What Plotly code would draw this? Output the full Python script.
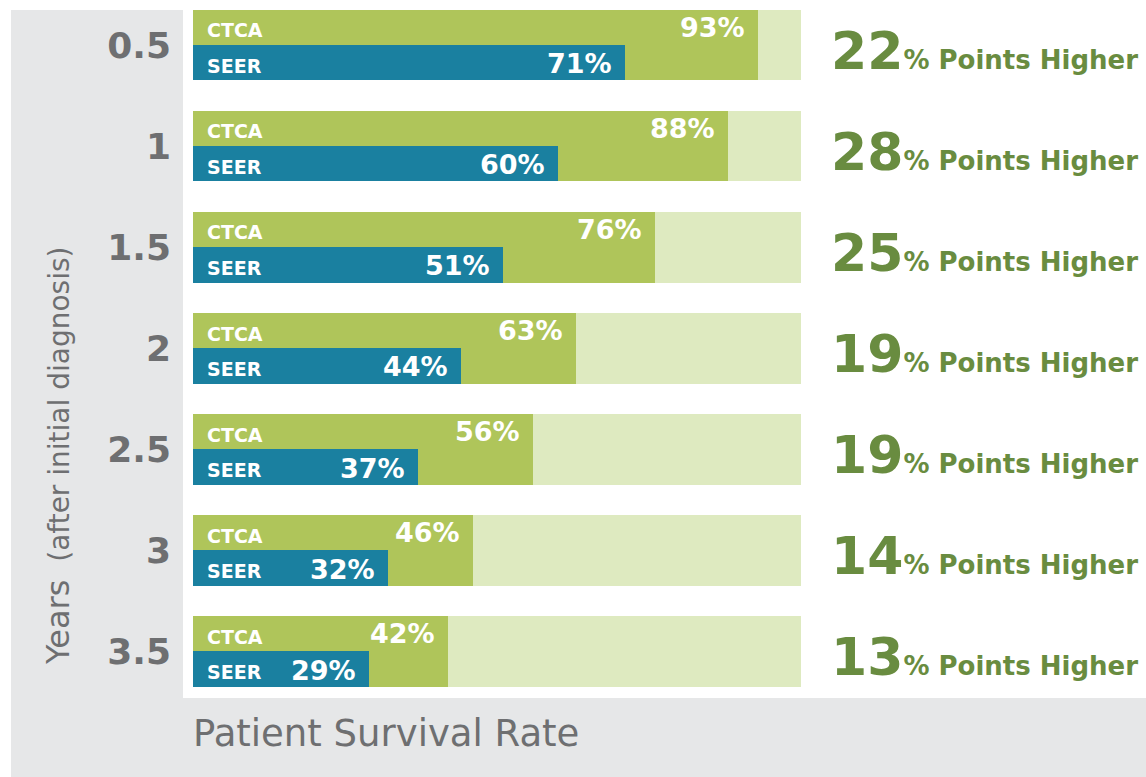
import plotly.graph_objects as go

# ---- data ----
years = ["0.5", "1", "1.5", "2", "2.5", "3", "3.5"]
ctca = [93, 88, 76, 63, 56, 46, 42]
seer = [71, 60, 51, 44, 37, 32, 29]
full = [100] * len(years)
series_names = ["CTCA", "SEER"]

# ---- style ----
FONT = "DejaVu Sans"
GRAY_BG = "#e6e7e8"
GRAY_TXT = "#6e6f71"
LIGHT = "#deeac0"
GREEN = "#afc55a"
BLUE = "#1a80a0"
DARK_GREEN = "#698c40"

W, H = 1146, 777
PL, PB = 183, 79  # plot area left edge / bottom strip height in px
px_per_unit = 6.08
x_lo = -(193 - PL) / px_per_unit
x_hi = (W - 193) / px_per_unit

ypos = list(range(len(years)))
row_px = 101.08
y_top = -45 / row_px
y_bot = ((H - PB) - 45) / row_px

fig = go.Figure()
fig.add_trace(go.Bar(y=ypos, x=full, orientation="h", width=0.70,
                     marker=dict(color=LIGHT, line=dict(width=0)),
                     hoverinfo="skip", showlegend=False))
fig.add_trace(go.Bar(y=ypos, x=ctca, orientation="h", width=0.70, name=series_names[0],
                     marker=dict(color=GREEN, line=dict(width=0)), showlegend=False))
fig.add_trace(go.Bar(y=ypos, x=seer, orientation="h", width=0.35, offset=0,
                     name=series_names[1],
                     marker=dict(color=BLUE, line=dict(width=0)), showlegend=False))

ann = []
for i, (c, s) in enumerate(zip(ctca, seer)):
    # series labels
    ann.append(dict(x=0, y=i - 0.175, xref="x", yref="y", text=f"<b>{series_names[0]}</b>",
                    showarrow=False, xanchor="left", yanchor="middle", xshift=12, yshift=-3,
                    font=dict(family=FONT, size=19, color="white")))
    ann.append(dict(x=0, y=i + 0.175, xref="x", yref="y", text=f"<b>{series_names[1]}</b>",
                    showarrow=False, xanchor="left", yanchor="middle", xshift=12, yshift=-3,
                    font=dict(family=FONT, size=19, color="white")))
    # values
    ann.append(dict(x=c, y=i - 0.175, xref="x", yref="y", text=f"<b>{c}%</b>",
                    showarrow=False, xanchor="right", yanchor="middle", xshift=-11, yshift=0,
                    font=dict(family=FONT, size=27, color="white")))
    ann.append(dict(x=s, y=i + 0.175, xref="x", yref="y", text=f"<b>{s}%</b>",
                    showarrow=False, xanchor="right", yanchor="middle", xshift=-11, yshift=-1,
                    font=dict(family=FONT, size=27, color="white")))
    # difference
    d = c - s
    ann.append(dict(x=100, y=i, xref="x", yref="y",
                    text=f"<b><span style='font-size:52px'>{d}</span>%&nbsp;Points Higher</b>",
                    showarrow=False, xanchor="left", yanchor="middle", xshift=28, yshift=-6,
                    font=dict(family=FONT, size=26, color=DARK_GREEN)))

# axis titles
ann.append(dict(x=0, y=(H - 733) / H, xref="x", yref="paper", text="Patient Survival Rate",
                showarrow=False, xanchor="left", yanchor="middle", xshift=-2,
                font=dict(family=FONT, size=37, color=GRAY_TXT)))
ann.append(dict(x=58 / W, y=1 - 456 / H, xref="paper", yref="paper",
                text="<span style='font-size:32px'>Years</span>&nbsp;&nbsp;(after initial diagnosis)",
                textangle=-90, showarrow=False, xanchor="center", yanchor="middle",
                font=dict(family=FONT, size=28, color=GRAY_TXT)))

shapes = [
    dict(type="rect", xref="paper", yref="paper", x0=11 / W, x1=PL / W, y0=0, y1=1 - 10 / H,
         fillcolor=GRAY_BG, line=dict(width=0), layer="below"),
    dict(type="rect", xref="paper", yref="paper", x0=11 / W, x1=1, y0=0, y1=PB / H,
         fillcolor=GRAY_BG, line=dict(width=0), layer="below"),
]

fig.update_layout(
    width=W, height=H, autosize=False,
    margin=dict(l=0, r=0, t=0, b=0, pad=0),
    paper_bgcolor="white", plot_bgcolor="white",
    barmode="overlay", bargap=0,
    annotations=ann, shapes=shapes,
    xaxis=dict(domain=[PL / W, 1], range=[x_lo, x_hi], visible=False, fixedrange=True),
    yaxis=dict(domain=[PB / H, 1], range=[y_bot, y_top], tickmode="array",
               tickvals=ypos, ticktext=years, fixedrange=True,
               showgrid=False, zeroline=False, showline=False, ticks="",
               ticklabelstandoff=11, automargin=False,
               tickfont=dict(family=FONT, size=36, color=GRAY_TXT, weight="bold")),
    showlegend=False,
)

fig.write_html("out.html", post_script="document.body.style.margin='0';",
               config={"displayModeBar": False})
